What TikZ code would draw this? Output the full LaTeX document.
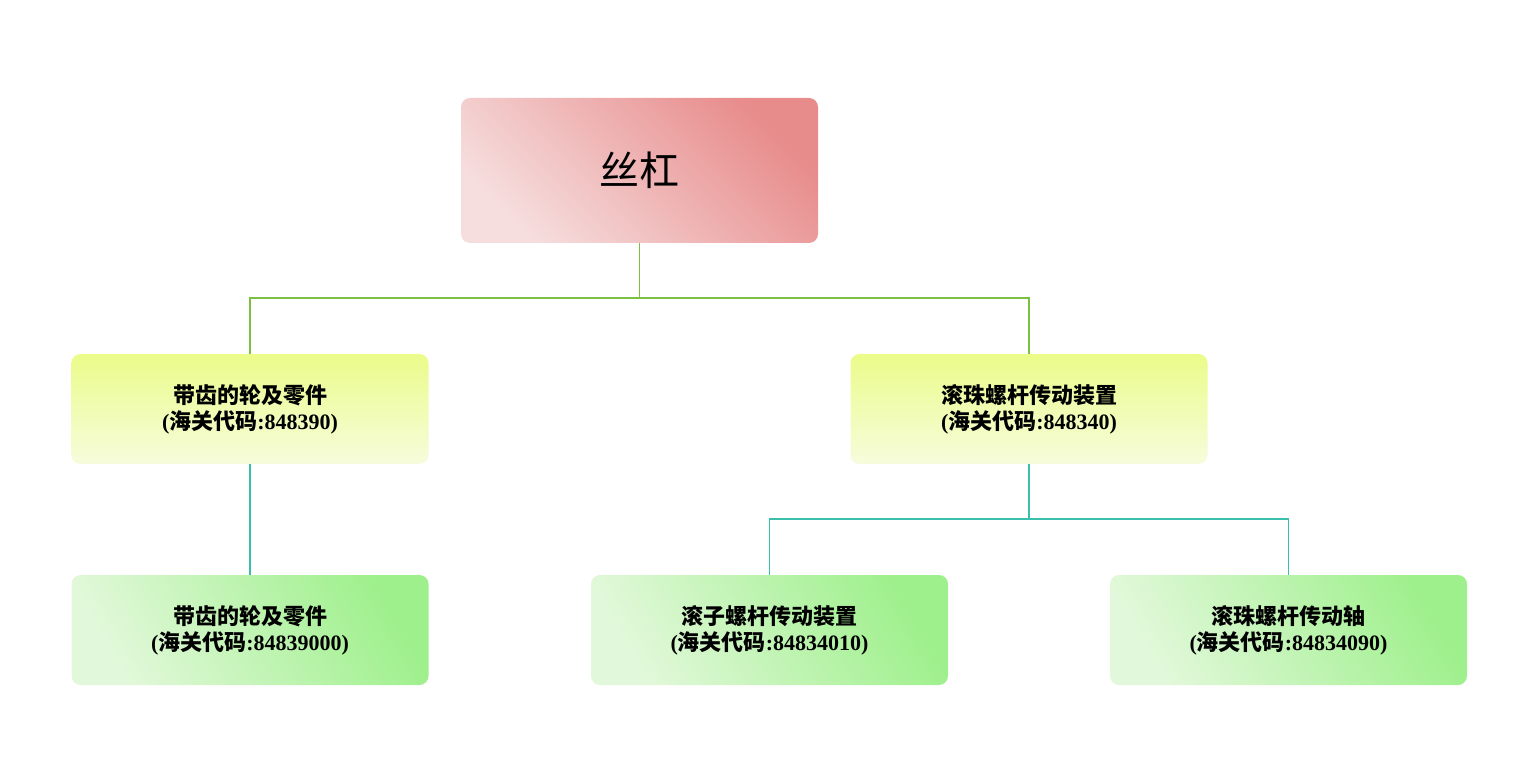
\documentclass[tikz,border=0pt]{standalone}
\usepackage{fontspec}
\setmainfont{Liberation Serif}
\newfontfamily\cjk{Noto Sans CJK SC}
\begin{document}
\begin{tikzpicture}[x=1pt,y=-1pt,
  box/.style={rounded corners=9pt,minimum width=357pt,minimum height=110pt,align=center,font=\fontsize{22}{26}\selectfont\bfseries,inner sep=0pt},
  rootbox/.style={box,minimum height=145pt,font=\fontsize{40}{44}\selectfont\cjk,left color=pinkA,right color=pinkB,shading angle=135},
  midbox/.style={box,top color=yelA,bottom color=yelB},
  lowbox/.style={box,left color=grnB,right color=grnA,shading angle=120},
  gl/.style={draw=lineG,line width=1.3pt},
  tl/.style={draw=lineT,line width=1.3pt}]
\definecolor{pinkA}{HTML}{F6DEDE}\definecolor{pinkB}{HTML}{E88B8B}
\definecolor{yelA}{HTML}{EBFC8A}\definecolor{yelB}{HTML}{F6FCDC}
\definecolor{grnA}{HTML}{9EF08C}\definecolor{grnB}{HTML}{E2F8DA}
\definecolor{lineG}{HTML}{7AC143}\definecolor{lineT}{HTML}{3BBFAD}
\useasboundingbox (0,0) rectangle (1539,783);
\node[rootbox] (r) at (639.5,170.5) {丝杠};
\node[midbox] (a) at (250,409) {{\cjk 带齿的轮及零件}\\({\cjk 海关代码}:848390)};
\node[midbox] (b) at (1029,409) {{\cjk 滚珠螺杆传动装置}\\({\cjk 海关代码}:848340)};
\node[lowbox] (a1) at (250,630) {{\cjk 带齿的轮及零件}\\({\cjk 海关代码}:84839000)};
\node[lowbox] (b1) at (769.5,630) {{\cjk 滚子螺杆传动装置}\\({\cjk 海关代码}:84834010)};
\node[lowbox] (b2) at (1288.5,630) {{\cjk 滚珠螺杆传动轴}\\({\cjk 海关代码}:84834090)};
\coordinate (j1) at (639.5,298);
\coordinate (j2) at (1029,519);
\draw[gl] (r.south) -- (j1) -| (a.north);
\draw[gl] (j1) -| (b.north);
\draw[tl] (a.south) -- (a1.north);
\draw[tl] (b.south) -- (j2) -| (b1.north);
\draw[tl] (j2) -| (b2.north);
\end{tikzpicture}
\end{document}
